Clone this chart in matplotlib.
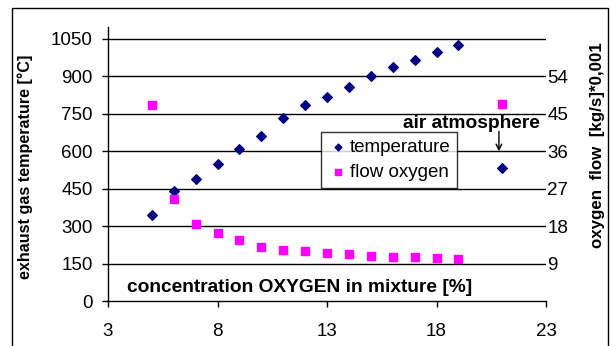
import matplotlib.pyplot as plt
from matplotlib.patches import Rectangle

# oxygen concentration [%]
oxygen_pct = [5, 6, 7, 8, 9, 10, 11, 12, 13, 14, 15, 16, 17, 18, 19]
temperature = [345, 441, 489, 548, 609, 663, 732, 787, 816, 859, 902, 937, 965, 999, 1025]
flow_oxygen = [47.1, 24.5, 18.6, 16.3, 14.6, 12.9, 12.3, 12.0, 11.5, 11.2, 10.8, 10.5, 10.6, 10.3, 10.0]

# air atmosphere reference point
air_pct = [21]
air_temperature = [532]
air_flow = [47.4]

left_ticks = [0, 150, 300, 450, 600, 750, 900, 1050]
right_ticks = [9, 18, 27, 36, 45, 54]
x_ticks = [3, 8, 13, 18, 23]

plt.rcParams['font.family'] = ['Liberation Sans', 'DejaVu Sans']

fig = plt.figure(figsize=(6.11, 3.46), dpi=100)
ax = fig.add_axes([108/611, 1 - 301/346, 438/611, 274.5/346])
ax2 = ax.twinx()

ax.scatter(oxygen_pct + air_pct, temperature + air_temperature, marker='D', s=24,
           color='#000080', zorder=4, label='temperature')
ax2.scatter(oxygen_pct + air_pct, flow_oxygen + air_flow, marker='s', s=30,
            color='#FF00FF', zorder=4, label='flow oxygen')

ax.set_xlim(3, 23)
ax.set_ylim(0, 1100)
ax2.set_ylim(0, 66)
ax.set_xticks(x_ticks)
ax.set_yticks(left_ticks)
ax2.set_yticks(right_ticks)

for y in left_ticks[1:]:
    ax.axhline(y, color='black', lw=1.0, zorder=1)

for a in (ax, ax2):
    a.spines['top'].set_visible(False)
    a.spines['right'].set_visible(False)
ax2.spines['left'].set_visible(False)
ax2.spines['bottom'].set_visible(False)
ax.spines['left'].set_linewidth(1.0)
ax.spines['bottom'].set_linewidth(1.0)

ax.tick_params(axis='both', direction='out', length=4, width=1, labelsize=13.5, pad=7)
ax.tick_params(axis='x', pad=12)
ax2.tick_params(axis='y', direction='out', length=0, width=1, labelsize=13.5, pad=1)

ax.set_ylabel("exhaust gas temperature [°C]", fontsize=11.6, fontweight='bold')
ax.yaxis.set_label_coords(-0.172, 0.49)
ax2.set_ylabel("oxygen  flow  [kg/s]*0,001", fontsize=12.2, fontweight='bold')
ax2.yaxis.set_label_coords(1.1, 0.568)

ax.text(0.043, 0.048, "concentration OXYGEN in mixture [%]", transform=ax.transAxes,
        fontsize=13.8, fontweight='bold', va='center', ha='left')

ax.text(19.6, 677, "air atmosphere", fontsize=13.8, fontweight='bold', ha='center', va='bottom')
ax.annotate("", xy=(20.85, 600), xytext=(20.85, 680),
            arrowprops=dict(arrowstyle='->', color='black', lw=1.0, shrinkA=0, shrinkB=0))

h1, l1 = ax.get_legend_handles_labels()
h2, l2 = ax2.get_legend_handles_labels()
leg = ax2.legend(h1 + h2, l1 + l2, loc='upper left', bbox_to_anchor=(0.486, 0.616),
                 fontsize=13.5, frameon=True, fancybox=False, edgecolor='black',
                 handletextpad=0.1, handlelength=1.1, borderpad=0.35, labelspacing=0.45,
                 borderaxespad=0, markerscale=0.7)
leg.get_frame().set_linewidth(1.0)
leg.set_zorder(5)

fig.patches.append(Rectangle((12/611, -0.05), 596/611, 1 - 8/346 + 0.05,
                             transform=fig.transFigure, fill=False,
                             edgecolor='black', lw=1.0))

fig.savefig("out.png", dpi=100)
